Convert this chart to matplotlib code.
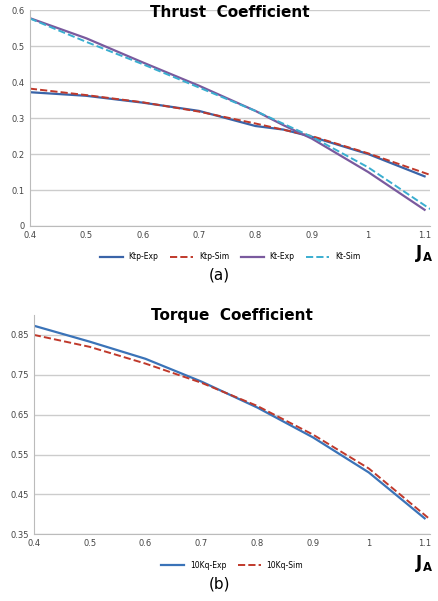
import matplotlib.pyplot as plt

j_exp = [0.4, 0.5, 0.6, 0.7, 0.8, 0.85, 0.9, 1.0, 1.1]
ktp_exp = [0.372, 0.362, 0.343, 0.32, 0.278, 0.268, 0.248, 0.2, 0.138]
kt_exp = [0.578, 0.522, 0.455, 0.39, 0.32, 0.28, 0.243, 0.15, 0.045]
j_sim = [0.4, 0.5, 0.6, 0.7, 0.8, 0.9, 1.0, 1.11]
ktp_sim = [0.382, 0.364, 0.344, 0.318, 0.285, 0.25, 0.202, 0.142]
kt_sim = [0.577, 0.512, 0.45, 0.385, 0.32, 0.248, 0.163, 0.047]

j_q = [0.4, 0.5, 0.6, 0.7, 0.8, 0.9, 1.0, 1.1]
kq_exp = [0.873, 0.833, 0.79, 0.733, 0.668, 0.593, 0.505, 0.39]
j_qs = [0.4, 0.5, 0.6, 0.7, 0.8, 0.9, 1.0, 1.11]
kq_sim = [0.85, 0.82, 0.778, 0.73, 0.672, 0.6, 0.515, 0.387]

xticks = [0.4, 0.5, 0.6, 0.7, 0.8, 0.9, 1.0, 1.1]
xlabels = ["0.4", "0.5", "0.6", "0.7", "0.8", "0.9", "1", "1.1"]

fig = plt.figure(figsize=(4.39, 6.01), dpi=100)


def style(ax):
    for s in ["top", "right"]:
        ax.spines[s].set_visible(False)
    ax.spines["left"].set_color("#bbbbbb")
    ax.spines["bottom"].set_color("#bbbbbb")
    ax.grid(axis="y", color="#cccccc", lw=1)
    ax.set_axisbelow(True)
    ax.tick_params(labelsize=6, length=0, colors="#444444")
    ax.set_xticks(xticks)
    ax.set_xticklabels(xlabels)
    ax.set_xlim(0.4, 1.11)


ax1 = fig.add_axes([0.068, 0.624, 0.912, 0.359])
style(ax1)
ax1.plot(j_exp, ktp_exp, color="#3a64a8", lw=1.6, label="Ktp-Exp")
ax1.plot(j_sim, ktp_sim, color="#c0392b", lw=1.4, ls="--", label="Ktp-Sim")
ax1.plot(j_exp, kt_exp, color="#7a5a9e", lw=1.6, label="Kt-Exp")
ax1.plot(j_sim, kt_sim, color="#3aaed0", lw=1.4, ls="--", label="Kt-Sim")
ax1.set_ylim(0, 0.6)
ax1.set_yticks([0, 0.1, 0.2, 0.3, 0.4, 0.5, 0.6])
ax1.set_yticklabels(["0", "0.1", "0.2", "0.3", "0.4", "0.5", "0.6"])
ax1.set_title("Thrust  Coefficient", fontsize=11, fontweight="bold", y=0.93)
ax1.legend(loc="upper center", bbox_to_anchor=(0.5, -0.09), ncol=4, frameon=False,
           fontsize=5.5, handlelength=3, columnspacing=1.5)
fig.text(0.945, 0.57, "J$_\\mathregular{A}$", fontsize=12, fontweight="bold")
fig.text(0.5, 0.535, "(a)", fontsize=11, ha="center")

ax2 = fig.add_axes([0.077, 0.111, 0.903, 0.365])
style(ax2)
ax2.plot(j_q, kq_exp, color="#3a73b8", lw=1.6, label="10Kq-Exp")
ax2.plot(j_qs, kq_sim, color="#c0392b", lw=1.4, ls="--", label="10Kq-Sim")
ax2.set_ylim(0.35, 0.9)
ax2.set_yticks([0.35, 0.45, 0.55, 0.65, 0.75, 0.85])
ax2.set_title("Torque  Coefficient", fontsize=11, fontweight="bold", y=0.94)
ax2.legend(loc="upper center", bbox_to_anchor=(0.5, -0.09), ncol=2, frameon=False,
           fontsize=5.5, handlelength=3, columnspacing=1.5)
fig.text(0.945, 0.055, "J$_\\mathregular{A}$", fontsize=12, fontweight="bold")
fig.text(0.5, 0.02, "(b)", fontsize=11, ha="center")

fig.savefig("out.png", dpi=100)
